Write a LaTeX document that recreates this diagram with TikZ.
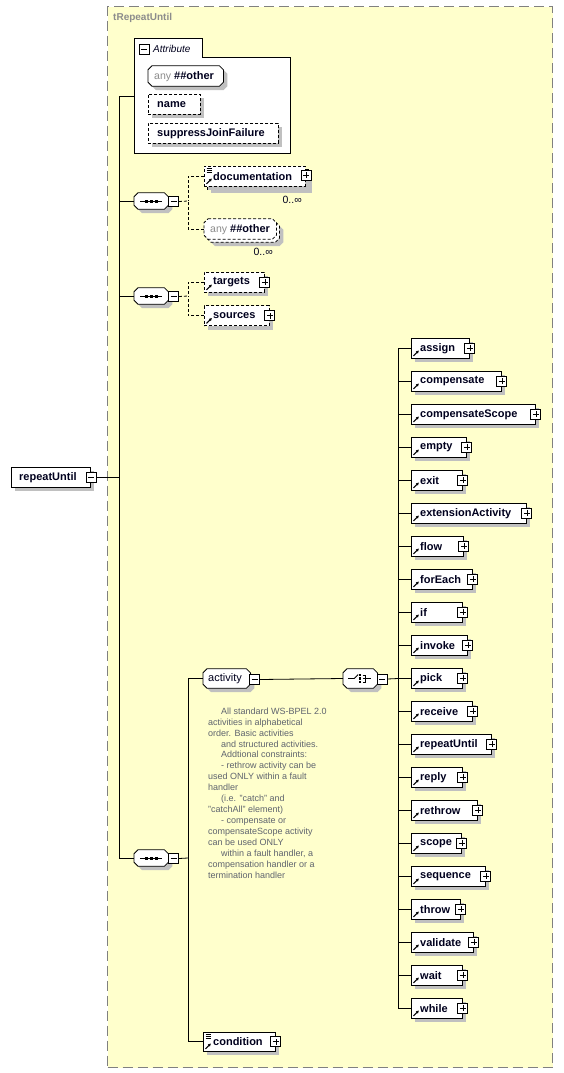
\documentclass[tikz,border=0pt]{standalone}
\usepackage{fontspec}
\setmainfont{Liberation Sans}
\usetikzlibrary{calc,shadows,arrows.meta}
\definecolor{bgy}{RGB}{255,255,204}
\definecolor{shd}{RGB}{192,192,192}
\definecolor{ttl}{RGB}{140,140,140}
\definecolor{note}{RGB}{95,100,110}
\definecolor{txt}{RGB}{0,0,30}
\definecolor{frame}{RGB}{128,128,128}
\tikzset{
 x=1pt,y=1pt,
 base/.style={rectangle, minimum height=20, inner sep=0, anchor=west},
 elem/.style={base, draw, fill=white, line width=0.8, drop shadow={shadow xshift=4pt, shadow yshift=-4pt, fill=shd, opacity=1}},
 optel/.style={elem, dash pattern=on 3pt off 2pt},
 lbl/.style={font=\bfseries\fontsize{11}{13}\selectfont, text=txt, inner sep=0, anchor=west},
 rlbl/.style={font=\fontsize{11}{13}\selectfont, text=txt, inner sep=0, anchor=west},
 pm/.style={draw, fill=white, minimum size=10, inner sep=0, line width=0.8},
 conn/.style={line width=0.8},
 optconn/.style={conn, dash pattern=on 3pt off 2pt},
 octo/.style={line width=0.8, fill=white},
}
\newcommand\plusbox[2]{\node[pm] (#1) at (#2) {};
 \draw ($(#1.center)+(-3,0)$) -- ($(#1.center)+(3,0)$);
 \draw ($(#1.center)+(0,-3)$) -- ($(#1.center)+(0,3)$);}
\newcommand\minusbox[2]{\node[pm] (#1) at (#2) {};
 \draw ($(#1.center)+(-3,0)$) -- ($(#1.center)+(3,0)$);}
\newcommand\arrowicon[1]{\draw[line width=1.1, -{Latex[length=3pt,width=3.2pt]}] ($(#1.south west)+(2.5,2.5)$) -- ($(#1.south west)+(8,8)$);}
\newcommand\docicon[1]{\foreach \k in {2.5,4.5,6.5} \draw[line width=0.7] ($(#1.north west)+(2.5,-\k)$) -- ++(5,0);}
\newcommand\el[5]{%
 \node[elem, minimum width=#4] (#1) at (#2,-#3) {};
 \node[lbl] (#1-t) at ($(#1.west)+(9,-0.3)$) {#5};
 \plusbox{#1-p}{#1.east}
 \arrowicon{#1}}
% octagon path around a named node: name, cut, dx, dy
\newcommand\octpath[4]{($(#1.north west)+(#2+#3,#4)$) -- ($(#1.north east)+(#3-#2,#4)$) -- ($(#1.north east)+(#3,#4-#2)$) -- ($(#1.south east)+(#3,#4+#2)$) -- ($(#1.south east)+(#3-#2,#4)$) -- ($(#1.south west)+(#2+#3,#4)$) -- ($(#1.south west)+(#3,#4+#2)$) -- ($(#1.north west)+(#3,#4-#2)$) -- cycle}
\newcommand\seqicon[1]{\draw[line width=0.8] ($(#1.center)+(-11,0)$) -- ($(#1.center)+(11,0)$);
 \foreach \d in {-5,0,5} \fill ($(#1.center)+(\d-1.5,-1.5)$) rectangle ++(3,3);}
\begin{document}
\begin{tikzpicture}
\useasboundingbox (0,0) rectangle (563,-1073);
\fill[white] (0,0) rectangle (563,-1073);
% outer complex type frame
\node[rectangle, draw=frame, fill=bgy, line width=1.2, dash pattern=on 10pt off 5pt, minimum width=445, minimum height=1061, anchor=north west, inner sep=0] (ctype) at (107,-6) {};
\node[font=\bfseries\fontsize{10}{12}\selectfont, text=ttl, anchor=west, inner sep=0] (ctitle) at (113,-18) {tRepeatUntil};

% root element
\node[elem, minimum width=79] (ru) at (11,-477) {};
\node[lbl] (ru-t) at ($(ru.west)+(8,-0.3)$) {repeatUntil};
\minusbox{ru-m}{91,-477}

% main spine
\coordinate (vtop) at (119,-96);
\coordinate (vbot) at (119,-858);
\draw[conn] (vtop) -- (vbot);
\draw[conn] (ru-m.east) -- (ru-m.east -| vtop);

% attribute box
\node[rectangle, minimum width=156, minimum height=96, anchor=north west, inner sep=0] (attr) at (134,-57) {};
\draw[line width=0.8, fill=white] (attr.south west) -- (134,-38) -- (202,-38) -- (202,-57) -- (attr.north east) -- (attr.south east) -- cycle;
\minusbox{attr-m}{144,-49}
\node[font=\itshape\fontsize{10}{12}\selectfont, text=txt, anchor=west, inner sep=0] (attr-t) at (153,-48.5) {Attribute};
\draw[conn] (vtop) -- (attr.west |- vtop);

\node[base, minimum width=75] (aany) at (148,-76) {};
\fill[shd] \octpath{aany}{4}{4}{-4};
\draw[octo] \octpath{aany}{4}{0}{0};
\node[rlbl, anchor=west] (aany-t) at ($(aany.west)+(6,-0.3)$) {\textcolor{ttl}{\fontsize{10.5}{12}\selectfont any} \textbf{\#\#other}};

\node[optel, minimum width=52] (aname) at (148,-104) {};
\node[lbl] (aname-t) at ($(aname.west)+(9,-0.3)$) {name};
\node[optel, minimum width=130] (asjf) at (148,-133) {};
\node[lbl] (asjf-t) at ($(asjf.west)+(9,-0.3)$) {suppressJoinFailure};

% sequence 1
\node[base, minimum width=34, minimum height=16] (s1) at (134,-201) {};
\fill[shd] \octpath{s1}{4}{4}{-4};
\draw[octo] \octpath{s1}{4}{0}{0};
\seqicon{s1}
\minusbox{s1-m}{173.5,-201.5}
\coordinate (s1j) at (188,-201);
\draw[conn] (vtop |- s1) -- (s1.west);
\draw[optconn] (s1-m.east) -- (s1j);

% documentation (multiple)
\node[optel, minimum width=101] (docb) at (207,-179) {};
\node[elem, dash pattern=on 3pt off 2pt, drop shadow={opacity=0}, minimum width=101] (doc) at (204,-176) {};
\node[lbl] (doc-t) at ($(doc.west)+(9,-0.3)$) {documentation};
\plusbox{doc-p}{306,-175}
\docicon{doc}
\arrowicon{doc}
\node[rlbl, font=\fontsize{10.5}{12}\selectfont, anchor=east] (doc-n) at (302,-200) {0..∞};
\draw[optconn] (doc.west) -| (s1j);

% any ##other (multiple)
\node[base, minimum width=72] (oany) at (204,-229) {};
\fill[shd] \octpath{oany}{4}{7}{-7};
\draw[octo, dash pattern=on 3pt off 2pt] \octpath{oany}{4}{3}{-3};
\draw[octo, dash pattern=on 3pt off 2pt] \octpath{oany}{4}{0}{0};
\node[rlbl] (oany-t) at ($(oany.west)+(6,-0.3)$) {\textcolor{ttl}{\fontsize{10.5}{12}\selectfont any} \textbf{\#\#other}};
\node[rlbl, font=\fontsize{10.5}{12}\selectfont, anchor=east] (oany-n) at (273,-252) {0..∞};
\draw[optconn] (oany.west) -| (s1j);

% sequence 2
\node[base, minimum width=34, minimum height=16] (s2) at (134,-296) {};
\fill[shd] \octpath{s2}{4}{4}{-4};
\draw[octo] \octpath{s2}{4}{0}{0};
\seqicon{s2}
\minusbox{s2-m}{173.5,-296.5}
\coordinate (s2j) at (188,-296);
\draw[conn] (vtop |- s2) -- (s2.west);
\draw[optconn] (s2-m.east) -- (s2j);
\node[optel, minimum width=60] (tg) at (204,-282) {};
\node[lbl] (tg-t) at ($(tg.west)+(9,-0.3)$) {targets};
\plusbox{tg-p}{tg.east}
\arrowicon{tg}
\node[optel, minimum width=65] (sr) at (204,-315.5) {};
\node[lbl] (sr-t) at ($(sr.west)+(9,-0.3)$) {sources};
\plusbox{sr-p}{sr.east}
\arrowicon{sr}
\draw[optconn] (tg.west) -| (s2j);
\draw[optconn] (sr.west) -| (s2j);

% sequence 3
\node[base, minimum width=34, minimum height=16] (s3) at (134,-858) {};
\fill[shd] \octpath{s3}{4}{4}{-4};
\draw[octo] \octpath{s3}{4}{0}{0};
\seqicon{s3}
\minusbox{s3-m}{173.5,-858.5}
\coordinate (s3j) at (188,-858);
\draw[conn] (vbot) -- (s3.west);
\draw[conn] (s3-m.east) -- (s3j);

% activity group
\node[base, minimum width=47, minimum height=19] (act) at (203,-678.5) {};
\fill[shd] \octpath{act}{4}{4}{-4};
\draw[octo] \octpath{act}{4}{0}{0};
\node[rlbl] (act-t) at ($(act.west)+(5,-0.3)$) {activity};
\minusbox{act-m}{254.5,-679.5}
\draw[conn] (act.west) -| (s3j);

% annotation
\node[font=\fontsize{9}{10.93}\selectfont, text=note, align=left, anchor=north west, inner sep=0] (note) at (208,-707.5) {%
\hspace*{13pt}All standard WS-BPEL 2.0\\
activities in alphabetical\\
order. Basic activities\\
\hspace*{13pt}and structured activities.\\
\hspace*{13pt}Addtional constraints:\\
\hspace*{13pt}- rethrow activity can be\\
used ONLY within a fault\\
handler\\
\hspace*{13pt}(i.e. "catch" and\\
"catchAll" element)\\
\hspace*{13pt}- compensate or\\
compensateScope activity\\
can be used ONLY\\
\hspace*{13pt}within a fault handler, a\\
compensation handler or a\\
termination handler};

% choice
\node[base, minimum width=34, minimum height=19] (ch) at (343,-678.5) {};
\fill[shd] \octpath{ch}{4}{4}{-4};
\draw[octo] \octpath{ch}{4}{0}{0};
\draw[line width=0.8] ($(ch.center)+(-12,0)$) -- ($(ch.center)+(-6,0)$) -- ($(ch.center)+(-2,4)$);
\foreach \d in {-3.5,0,3.5} \fill ($(ch.center)+(0,\d)+(-1.2,-1.2)$) rectangle ++(2.4,2.4);
\draw[line width=0.8] ($(ch.center)+(2.5,3.5)$) -- ($(ch.center)+(5.5,3.5)$) -- ($(ch.center)+(5.5,-3.5)$) -- ($(ch.center)+(2.5,-3.5)$);
\draw[line width=0.8] ($(ch.center)+(2.5,0)$) -- ($(ch.center)+(11,0)$);
\minusbox{ch-m}{382,-679}
\draw[conn] (act-m.east) -- (ch.west);
\coordinate (chj) at (398,-678.5);
\draw[conn] (ch-m.east) -- (chj);
\coordinate (ctop) at (398,-348);
\coordinate (cbot) at (398,-1008);
\draw[conn] (ctop) -- (cbot);

% choice members
\el{e1}{411}{348}{58}{assign}
\el{e2}{411}{381}{90}{compensate}
\el{e3}{411}{414}{124}{compensateScope}
\el{e4}{411}{447}{55}{empty}
\el{e5}{411}{480}{51}{exit}
\el{e6}{411}{513}{115}{extensionActivity}
\el{e7}{411}{546}{52}{flow}
\el{e8}{411}{579}{61}{forEach}
\el{e9}{411}{612}{51}{if}
\el{e10}{411}{645}{56}{invoke}
\el{e11}{411}{678}{51}{pick}
\el{e12}{411}{711}{61}{receive}
\el{e13}{411}{744}{80}{repeatUntil}
\el{e14}{411}{777}{51}{reply}
\el{e15}{411}{810}{66}{rethrow}
\el{e16}{411}{843}{50}{scope}
\el{e17}{411}{876}{74}{sequence}
\el{e18}{411}{909}{49}{throw}
\el{e19}{411}{942}{62}{validate}
\el{e20}{411}{975}{51}{wait}
\el{e21}{411}{1008}{51}{while}
\foreach \i in {1,...,21} \draw[conn] (ctop |- e\i.west) -- (e\i.west);

% condition
\node[elem, minimum width=72, minimum height=19] (cond) at (203,-1041.5) {};
\node[lbl] (cond-t) at ($(cond.west)+(10,-0.3)$) {condition};
\plusbox{cond-p}{cond.east}
\docicon{cond}
\arrowicon{cond}
\draw[conn] (cond.west) -| (s3j);
\end{tikzpicture}
\end{document}
